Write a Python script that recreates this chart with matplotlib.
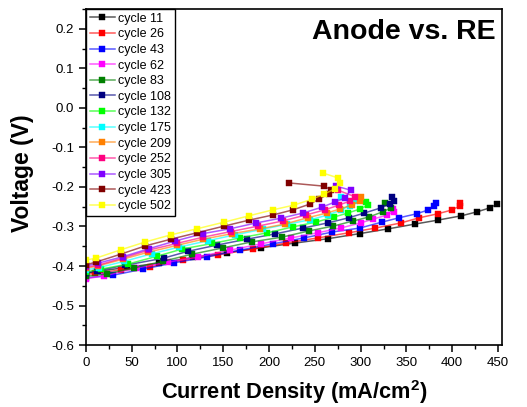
import matplotlib
matplotlib.use("Agg")
import matplotlib.pyplot as plt
from matplotlib.colors import to_rgba
from matplotlib.ticker import MultipleLocator

plt.rcParams["font.family"] = ["Liberation Sans", "DejaVu Sans"]
plt.rcParams["mathtext.fontset"] = "custom"
plt.rcParams["mathtext.rm"] = "Liberation Sans"
plt.rcParams["mathtext.bf"] = "Liberation Sans:bold"

LABELS = ["cycle 11", "cycle 26", "cycle 43", "cycle 62", "cycle 83", "cycle 108",
          "cycle 132", "cycle 175", "cycle 209", "cycle 252", "cycle 305",
          "cycle 423", "cycle 502"]

COLORS = ["#000000", "#FF0000", "#0000FF", "#FF00FF", "#008000", "#000080",
          "#00FF00", "#00FFFF", "#FF8000", "#FF0080", "#8000FF", "#800000",
          "#FFFF00"]

# current density (mA/cm2) and voltage (V) per cycle
C11_X = [0, 15, 45, 80, 117, 154, 191, 228, 264, 299, 330, 359, 384, 410, 427, 441, 449]
C11_V = [-0.418, -0.413, -0.403, -0.393, -0.378, -0.366, -0.354, -0.342, -0.331,
         -0.318, -0.306, -0.294, -0.284, -0.273, -0.263, -0.253, -0.243]

C26_X = [0, 10, 38, 70, 106, 144, 182, 218, 253, 287, 316, 344, 364, 384, 400, 408, 409]
C26_V = [-0.422, -0.418, -0.41, -0.402, -0.385, -0.372, -0.357, -0.342, -0.329,
         -0.316, -0.304, -0.291, -0.278, -0.268, -0.258, -0.248, -0.241]

C43_X = [0, 30, 62, 96, 132, 168, 204, 238, 269, 299, 323, 342, 361, 374, 380, 382]
C43_V = [-0.43, -0.423, -0.408, -0.392, -0.377, -0.36, -0.344, -0.329, -0.314,
         -0.304, -0.289, -0.278, -0.268, -0.258, -0.248, -0.241]

C62_X = [0, 20, 55, 90, 122, 157, 191, 224, 253, 278, 300, 314, 329, 336, 335]
C62_V = [-0.432, -0.425, -0.405, -0.39, -0.377, -0.36, -0.344, -0.329, -0.316,
         -0.304, -0.291, -0.281, -0.271, -0.263, -0.255]

C83_X = [0, 23, 52, 84, 116, 150, 181, 214, 244, 270, 292, 309, 324, 333, 327]
C83_V = [-0.426, -0.42, -0.405, -0.388, -0.37, -0.354, -0.339, -0.327, -0.311,
         -0.299, -0.286, -0.276, -0.263, -0.253, -0.241]

C108_X = [0, 12, 43, 85, 111, 143, 176, 206, 237, 264, 287, 304, 322, 332, 336, 334]
C108_V = [-0.418, -0.412, -0.398, -0.38, -0.363, -0.347, -0.332, -0.319, -0.304,
          -0.291, -0.278, -0.266, -0.253, -0.243, -0.236, -0.225]

C132_X = [0, 16, 46, 78, 105, 138, 168, 198, 226, 251, 271, 286, 299, 308, 306]
C132_V = [-0.415, -0.408, -0.395, -0.375, -0.357, -0.343, -0.329, -0.316, -0.301,
          -0.289, -0.276, -0.266, -0.256, -0.246, -0.238]

C175_X = [0, 14, 42, 72, 102, 133, 163, 193, 220, 245, 264, 278, 288, 294, 278]
C175_V = [-0.41, -0.404, -0.388, -0.369, -0.352, -0.336, -0.321, -0.307, -0.294,
          -0.283, -0.271, -0.259, -0.247, -0.236, -0.225]

C209_X = [0, 13, 40, 68, 99, 128, 160, 190, 217, 242, 263, 277, 290, 299, 300]
C209_V = [-0.406, -0.4, -0.383, -0.365, -0.348, -0.332, -0.318, -0.306, -0.294,
          -0.278, -0.266, -0.256, -0.246, -0.236, -0.225]

C252_X = [0, 13, 40, 68, 99, 128, 158, 188, 215, 240, 261, 276, 288, 294, 275]
C252_V = [-0.403, -0.398, -0.38, -0.36, -0.343, -0.327, -0.313, -0.299, -0.286,
          -0.271, -0.258, -0.246, -0.236, -0.225, -0.208]

C305_X = [0, 13, 41, 69, 97, 128, 157, 186, 213, 237, 258, 272, 283, 289, 273]
C305_V = [-0.4, -0.393, -0.376, -0.356, -0.337, -0.318, -0.306, -0.291, -0.279,
          -0.266, -0.251, -0.238, -0.228, -0.208, -0.198]

C423_X = [0, 11, 38, 65, 93, 121, 151, 178, 204, 226, 245, 255, 265, 268, 260, 222]
C423_V = [-0.397, -0.39, -0.37, -0.349, -0.332, -0.316, -0.299, -0.284, -0.271,
          -0.258, -0.243, -0.23, -0.218, -0.208, -0.198, -0.19]

C502_X = [0, 11, 38, 65, 93, 121, 151, 178, 204, 227, 247, 260, 272, 277, 275, 259]
C502_V = [-0.385, -0.38, -0.359, -0.339, -0.321, -0.306, -0.289, -0.273, -0.258,
          -0.246, -0.231, -0.218, -0.205, -0.19, -0.177, -0.165]

SERIES_X = [C11_X, C26_X, C43_X, C62_X, C83_X, C108_X, C132_X, C175_X, C209_X,
            C252_X, C305_X, C423_X, C502_X]
SERIES_V = [C11_V, C26_V, C43_V, C62_V, C83_V, C108_V, C132_V, C175_V, C209_V,
            C252_V, C305_V, C423_V, C502_V]

fig = plt.figure(figsize=(5.27, 4.07), dpi=100)
ax = fig.add_axes([0.163, 0.152, 0.789, 0.826])

for xs, vs, lab, col in zip(SERIES_X, SERIES_V, LABELS, COLORS):
    ax.plot(xs, vs, color=to_rgba(col, 0.65), linewidth=1.1,
            marker="s", markersize=4.8, markerfacecolor=col,
            markeredgecolor=col, markeredgewidth=0.3, label=lab)

ax.set_xlim(0, 454)
ax.set_ylim(-0.6, 0.25)
ax.xaxis.set_major_locator(MultipleLocator(50))
ax.xaxis.set_minor_locator(MultipleLocator(25))
ax.yaxis.set_major_locator(MultipleLocator(0.1))
ax.yaxis.set_minor_locator(MultipleLocator(0.05))
ax.yaxis.set_major_formatter(plt.FuncFormatter(lambda v, p: f"{v:.1f}"))

ax.tick_params(which="major", direction="out", length=5, width=1.1, labelsize=9.5)
ax.tick_params(which="minor", direction="out", length=3, width=1.0)
for spine in ax.spines.values():
    spine.set_linewidth(1.2)

ax.set_xlabel(r"Current Density (mA/cm$^{\mathbf{2}}$)", fontsize=15.7,
              fontweight="bold")
ax.xaxis.set_label_coords(0.5, -0.097, transform=ax.transAxes)
ax.xaxis.label.set_va("top")
ax.set_ylabel("Voltage (V)", fontsize=16.5, fontweight="bold")
ax.yaxis.set_label_coords(-0.125, 0.51, transform=ax.transAxes)

ax.text(0.985, 0.93, "Anode vs. RE", transform=ax.transAxes, ha="right",
        va="center", fontsize=20.5, fontweight="bold")

leg = ax.legend(loc="upper left", fontsize=9, frameon=True, fancybox=False,
                edgecolor="black", framealpha=1, borderaxespad=0,
                borderpad=0.3, labelspacing=0.29, handlelength=2.0,
                handletextpad=0.3)
leg.get_frame().set_linewidth(1.0)

fig.savefig("out.png", dpi=100, facecolor="white")
